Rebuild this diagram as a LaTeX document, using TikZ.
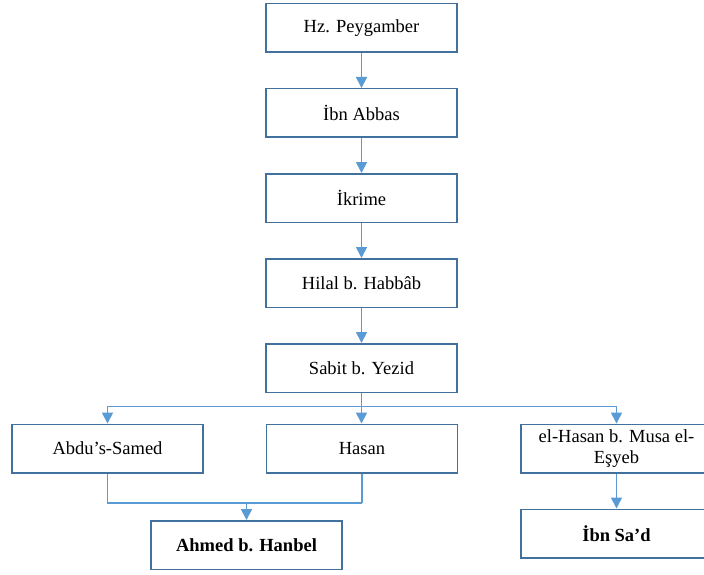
\documentclass[tikz,border=0pt]{standalone}
\usepackage{fontspec}
\setmainfont{Liberation Serif}
\usetikzlibrary{arrows.meta}
\definecolor{boxline}{RGB}{65,113,156}
\definecolor{conn}{RGB}{91,155,213}
\begin{document}
\begin{tikzpicture}[x=1pt,y=-1pt,
  box/.style={draw=boxline, line width=1.5pt, fill=white, minimum width=191pt, minimum height=48.5pt, inner sep=0pt, align=center, font=\fontsize{18.5}{21.7}\selectfont},
  link/.style={draw=conn, line width=1.8pt},
  arr/.style={link, -{Triangle[length=11pt,width=11pt]}}]
\clip (0,0) rectangle (704,575);
\fill[white] (0,0) rectangle (704,575);
\node[box] (hz) at (361.5,28) {Hz. Peygamber};
\node[box] (ibn) at (361.5,113) {İbn Abbas};
\node[box] (ikr) at (361.5,198) {İkrime};
\node[box] (hil) at (361.5,283) {Hilal b. Habbâb};
\node[box] (sab) at (361.5,368) {Sabit b. Yezid};
\node[box] (abdu) at (107.5,448.5) {Abdu’s-Samed};
\node[box] (has) at (362,448.5) {Hasan};
\node[box] (elh) at (616.5,448.5) {el-Hasan b. Musa el-\\Eşyeb};
\node[box] (ahm) at (246.5,545) {\textbf{Ahmed b. Hanbel}};
\node[box] (sad) at (616.5,533.5) {\textbf{İbn Sa’d}};
\coordinate (br) at (361.5,406.5);
\coordinate (mg) at (246.5,503);
\draw[arr] (hz) -- (ibn);
\draw[arr] (ibn) -- (ikr);
\draw[arr] (ikr) -- (hil);
\draw[arr] (hil) -- (sab);
\draw[link] (sab.south) -- (br);
\draw[arr] (br) -| (abdu.north);
\draw[arr] (br) -- (br |- has.north);
\draw[arr] (br) -| (elh.north);
\draw[link] (abdu.south) |- (mg);
\draw[link] (mg -| has.south) -- (has.south);
\draw[link] (mg) -- (mg -| has.south);
\draw[arr] (mg) -- (ahm.north);
\draw[arr] (elh) -- (sad);
\end{tikzpicture}
\end{document}
